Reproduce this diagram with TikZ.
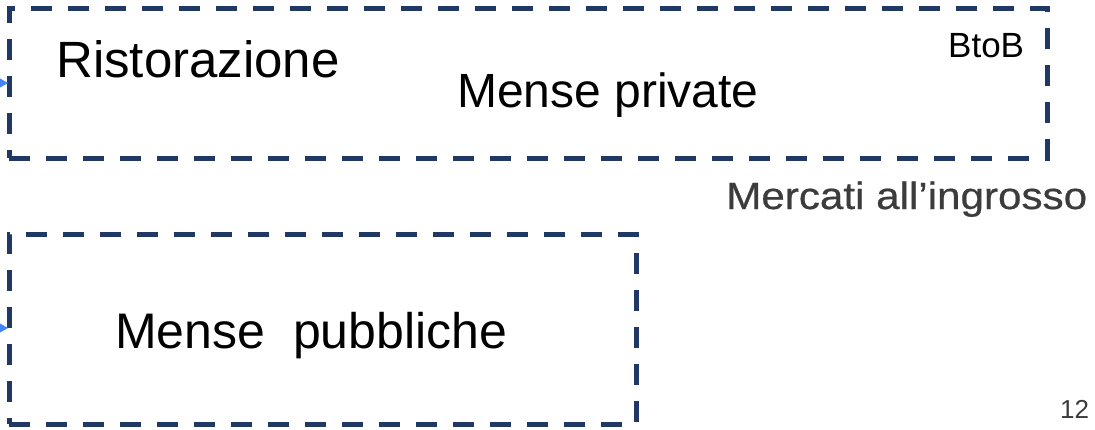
\documentclass[tikz,border=0pt]{standalone}
\usepackage{fontspec}
\setmainfont{Liberation Sans}
\newfontfamily\haloface[FakeBold=0.5]{Liberation Sans}
\usetikzlibrary{arrows.meta}
\definecolor{boxblue}{RGB}{31,56,100}
\definecolor{arrowblue}{RGB}{66,133,244}
\definecolor{textgray}{RGB}{60,60,60}

\begin{document}
\begin{tikzpicture}[x=1pt,y=-1pt,
	box node/.style={draw=boxblue,line width=5pt,dash pattern=on 21pt off 16pt,inner sep=0pt},
	text node/.style={anchor=base west,inner sep=0pt},
	in arrow/.style={-{Triangle[length=10pt,width=11pt]},arrowblue,line width=1.5pt,shorten >=-1.5pt}]

	\useasboundingbox (0,0) rectangle (1095,429);

	% dashed boxes
	\node[box node,minimum width=1038pt,minimum height=150pt] (priv) at (528,83) {};
	\node[box node,minimum width=627pt,minimum height=190pt] (pubb) at (322.5,329) {};

	% labels
	\node[text node,font=\fontsize{51}{60}\selectfont] (rist) at (56,77) {Ristorazione};
	\node[text node,font=\fontsize{48}{58}\selectfont] (privtext) at (457,107) {Mense private};
	\node[text node,font=\fontsize{35}{42}\selectfont] (btob) at (948,57) {BtoB};
	\node[text node,font=\fontsize{50}{60}\selectfont] (pubbtext) at (115,348) {Mense\ \ pubbliche};
	\node[text node,font=\haloface\fontsize{38}{46}\selectfont,textgray,xscale=1.11] (ingr) at (726,209) {Mercati all’ingrosso};
	\node[text node,font=\fontsize{26}{31}\selectfont,textgray] (pagenum) at (1060,418) {12};

	% incoming arrows
	\coordinate (priv in) at (-40,83);
	\coordinate (pubb in) at (-40,328);
	\draw[in arrow] (priv in) -- (priv.west);
	\draw[in arrow] (pubb in) -- (pubb in -| pubb.west);
\end{tikzpicture}
\end{document}
